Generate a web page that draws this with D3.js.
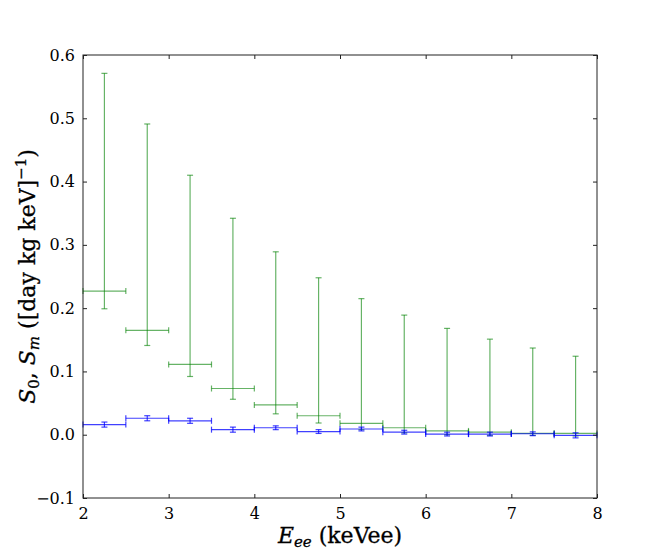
<!DOCTYPE html>
<html>
<head>
<meta charset="utf-8">
<script src="https://cdn.jsdelivr.net/npm/d3@7"></script>
<style>
  body { margin: 0; background: #fff; }
  text { font-family: "DejaVu Serif", serif; fill: #000; }
</style>
</head>
<body>
<div id="chart"></div>
<script>
// bin centres and half widths (keVee)
const bins = [2.25, 2.75, 3.25, 3.75, 4.25, 4.75, 5.25, 5.75, 6.25, 6.75, 7.25, 7.75];
const binHalf = [0.25, 0.25, 0.25, 0.25, 0.25, 0.25, 0.25, 0.25, 0.25, 0.25, 0.25, 0.25];

// S0 (green): value, lower and upper error-bar ends
const s0 = [0.227, 0.165, 0.111, 0.073, 0.047, 0.030, 0.018, 0.011, 0.006, 0.004, 0.002, 0.002];
const s0Low = [0.199, 0.141, 0.092, 0.056, 0.033, 0.0185, 0.008, 0.003, 0.000, -0.001, -0.001, -0.002];
const s0High = [0.571, 0.491, 0.410, 0.342, 0.289, 0.248, 0.215, 0.189, 0.168, 0.151, 0.137, 0.124];

// Sm (blue): value and symmetric error
const sm = [0.016, 0.026, 0.022, 0.008, 0.011, 0.005, 0.009, 0.004, 0.001, 0.001, 0.0015, -0.001];
const smErr = [0.004, 0.004, 0.004, 0.004, 0.003, 0.003, 0.003, 0.003, 0.003, 0.003, 0.003, 0.004];

const xTicks = [2, 3, 4, 5, 6, 7, 8];
const yTicks = [-0.1, 0.0, 0.1, 0.2, 0.3, 0.4, 0.5, 0.6];

const W = 664, H = 554;
const margin = { left: 83, right: 67, top: 55, bottom: 56 };

const svg = d3.select('#chart').append('svg')
  .attr('width', W).attr('height', H);

const x = d3.scaleLinear().domain([2, 8]).range([margin.left, W - margin.right]);
const y = d3.scaleLinear().domain([-0.1, 0.6]).range([H - margin.bottom, margin.top]);

const cap = 3;

const drawSeries = (vals, lo, hi, color, opacity) => {
  const g = svg.append('g')
    .attr('stroke', color)
    .attr('stroke-opacity', opacity)
    .attr('stroke-width', 1.2)
    .attr('fill', 'none');
  bins.forEach((b, i) => {
    const x0 = x(b - binHalf[i]), x1 = x(b + binHalf[i]);
    const cx = x(b), cy = y(vals[i]);
    const yl = y(lo[i]), yh = y(hi[i]);
    // horizontal bar with end caps
    g.append('line').attr('x1', x0).attr('x2', x1).attr('y1', cy).attr('y2', cy);
    g.append('line').attr('x1', x0).attr('x2', x0).attr('y1', cy - cap).attr('y2', cy + cap);
    g.append('line').attr('x1', x1).attr('x2', x1).attr('y1', cy - cap).attr('y2', cy + cap);
    // vertical bar with caps
    g.append('line').attr('x1', cx).attr('x2', cx).attr('y1', yl).attr('y2', yh);
    g.append('line').attr('x1', cx - cap).attr('x2', cx + cap).attr('y1', yl).attr('y2', yl);
    g.append('line').attr('x1', cx - cap).attr('x2', cx + cap).attr('y1', yh).attr('y2', yh);
  });
};

drawSeries(s0, s0Low, s0High, '#008000', 0.6);
drawSeries(sm, sm.map((v, i) => v - smErr[i]), sm.map((v, i) => v + smErr[i]), '#0000ff', 0.75);

// frame
svg.append('rect')
  .attr('x', margin.left).attr('y', margin.top)
  .attr('width', W - margin.left - margin.right)
  .attr('height', H - margin.bottom - margin.top)
  .attr('fill', 'none').attr('stroke', '#222').attr('stroke-width', 1);

const tickLen = 4;
const axB = svg.append('g').attr('transform', `translate(0,${H - margin.bottom})`)
  .call(d3.axisBottom(x).tickValues(xTicks).tickSizeInner(-tickLen).tickSizeOuter(0).tickPadding(10)
    .tickFormat(d3.format('d')));
const axT = svg.append('g').attr('transform', `translate(0,${margin.top})`)
  .call(d3.axisTop(x).tickValues(xTicks).tickSizeInner(-tickLen).tickSizeOuter(0).tickFormat(''));
const axL = svg.append('g').attr('transform', `translate(${margin.left},0)`)
  .call(d3.axisLeft(y).tickValues(yTicks).tickSizeInner(-tickLen).tickSizeOuter(0).tickPadding(8)
    .tickFormat(d3.format('.1f')));
const axR = svg.append('g').attr('transform', `translate(${W - margin.right},0)`)
  .call(d3.axisRight(y).tickValues(yTicks).tickSizeInner(-tickLen).tickSizeOuter(0).tickFormat(''));

[axB, axT, axL, axR].forEach(a => {
  a.select('.domain').remove();
  a.selectAll('line').attr('stroke', '#222');
  a.selectAll('text').style('font-family', '"DejaVu Serif", serif').style('font-size', '16px').attr('fill', '#000');
});

// axis labels
const xl = svg.append('text')
  .attr('x', (margin.left + W - margin.right) / 2)
  .attr('y', 543)
  .attr('text-anchor', 'middle')
  .style('font-size', '22px')
  .attr('stroke', '#000').attr('stroke-width', 0.3);
xl.append('tspan').style('font-style', 'italic').text('E');
xl.append('tspan').style('font-style', 'italic').style('font-size', '15px').attr('dy', 4).text('ee');
xl.append('tspan').attr('dy', -4).text(' (keVee)');

const yl = svg.append('text')
  .attr('transform', `translate(35,${(margin.top + H - margin.bottom) / 2}) rotate(-90)`)
  .attr('text-anchor', 'middle')
  .style('font-size', '22px')
  .attr('stroke', '#000').attr('stroke-width', 0.3);
yl.append('tspan').style('font-style', 'italic').text('S');
yl.append('tspan').style('font-size', '15px').attr('dy', 4).text('0');
yl.append('tspan').attr('dy', -4).text(', ');
yl.append('tspan').style('font-style', 'italic').text('S');
yl.append('tspan').style('font-style', 'italic').style('font-size', '15px').attr('dy', 4).text('m');
yl.append('tspan').attr('dy', -4).text(' ([day kg keV]');
yl.append('tspan').style('font-size', '15px').attr('dy', -9).text('\u22121');
yl.append('tspan').attr('dy', 9).text(')');
</script>
</body>
</html>
